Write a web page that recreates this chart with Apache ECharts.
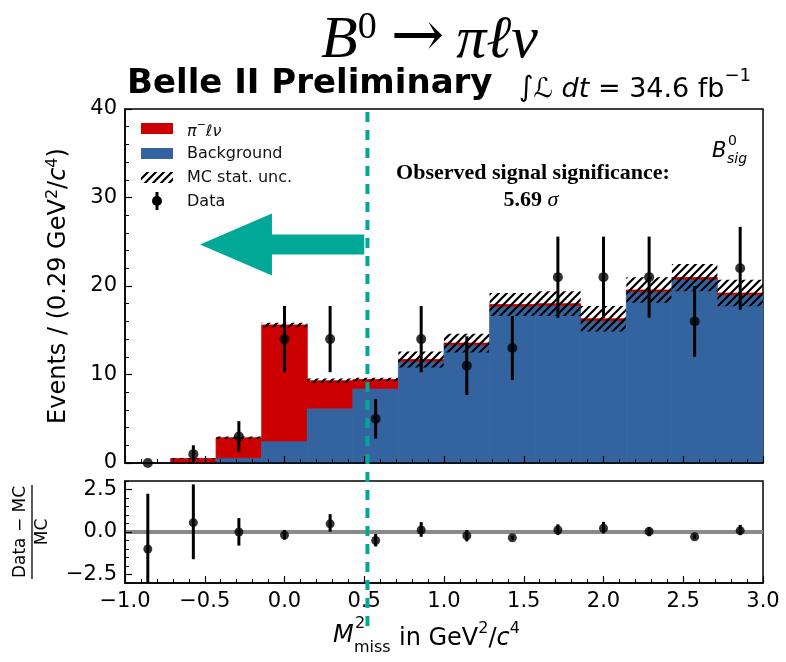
<!DOCTYPE html>
<html><head><meta charset="utf-8">
<script src="https://cdn.jsdelivr.net/npm/echarts@6/dist/echarts.min.js"></script>
<style>html,body{margin:0;padding:0;background:#fff}#c{width:786px;height:662px}</style>
</head><body><div id="c"></div>
<script>
// ---- data ----
const binEdges   = [-1.0, -0.714, -0.429, -0.143, 0.143, 0.429, 0.714, 1.0, 1.286, 1.571, 1.857, 2.143, 2.429, 2.714, 3.0];
const background = [0.0, 0.0, 0.6, 2.5, 6.2, 8.43, 11.5, 13.35, 17.7, 17.8, 16.1, 19.35, 20.75, 19.0];
const signal     = [0.0, 0.5, 2.25, 13.1, 3.1, 1.0, 0.2, 0.2, 0.2, 0.2, 0.2, 0.2, 0.2, 0.2];
const mcUnc      = [0.0, 0.06, 0.15, 0.25, 0.25, 0.2, 0.9, 1.05, 1.3, 1.4, 1.45, 1.45, 1.55, 1.5];
const dataCounts = [0, 1, 3, 14, 14, 5, 14, 11, 13, 21, 21, 21, 16, 22];
const dataErr    = [0, 1, 1.73, 3.74, 3.74, 2.24, 3.74, 3.32, 3.61, 4.58, 4.58, 4.58, 4.0, 4.69];
const ratioVal   = [-1.0, 0.55, 0.0, -0.18, 0.48, -0.5, 0.12, -0.22, -0.34, 0.12, 0.22, 0.03, -0.28, 0.08];
const ratioLo    = [-3.2, -1.6, -0.8, -0.45, 0.02, -0.85, -0.28, -0.55, -0.45, -0.18, -0.08, -0.25, -0.4, -0.18];
const ratioHi    = [2.25, 2.8, 0.82, 0.12, 1.05, -0.12, 0.58, 0.12, -0.22, 0.45, 0.6, 0.3, -0.15, 0.42];
const mainYTicks = [0, 10, 20, 30, 40];
const ratioYTicks = [-2.5, 0, 2.5];
const ratioYMinor = [-3, -2.5, -2, -1.5, -1, -0.5, 0, 0.5, 1, 1.5, 2, 2.5, 3];
const cutValue = 0.52;

const RED = '#cc0000', BLUE = '#33649f', TEAL = '#00a898';
const FONT = 'DejaVu Sans';

// hatch pattern
const pc = document.createElement('canvas');
pc.width = 8; pc.height = 8;
const g = pc.getContext('2d');
g.strokeStyle = '#000'; g.lineWidth = 2.2; g.lineCap = 'square';
g.beginPath();
g.moveTo(0, 8); g.lineTo(8, 0);
g.moveTo(-4, 4); g.lineTo(4, -4);
g.moveTo(4, 12); g.lineTo(12, 4);
g.stroke();
const hatch = { image: pc, repeat: 'repeat' };

const centers = dataCounts.map((_, i) => (binEdges[i] + binEdges[i + 1]) / 2);
const histData = background.map((b, i) => [binEdges[i], binEdges[i + 1], b, signal[i], mcUnc[i]]);
const dataPts = dataCounts.map((v, i) => [centers[i], v, dataErr[i]]);
const ratioPts = ratioVal.map((v, i) => [centers[i], v, ratioLo[i], ratioHi[i]]);

function fmt(v) { return (v < 0 ? '\u2212' : '') + Math.abs(v).toFixed(1); }

const tickLabel = { fontFamily: FONT, fontSize: 21, color: '#000' };
const lineBlack = { color: '#000', width: 1.5 };

const chart = echarts.init(document.getElementById('c'), null, { renderer: 'canvas' });
chart.setOption({
  animation: false,
  backgroundColor: '#fff',
  grid: [
    { left: 125, right: 23, top: 109, height: 354, show: true, borderColor: '#000', borderWidth: 1.5, backgroundColor: 'transparent' },
    { left: 125, right: 23, top: 481, height: 102, show: true, borderColor: '#000', borderWidth: 1.5, backgroundColor: 'transparent' }
  ],
  xAxis: [
    { type: 'value', gridIndex: 0, min: -1, max: 3, interval: 0.5, z: 10,
      axisLine: { show: true, onZero: false, lineStyle: lineBlack },
      axisTick: { show: true, inside: true, length: 7, lineStyle: { color: '#000', width: 1.2 } },
      minorTick: { show: true, splitNumber: 5, length: 4, lineStyle: { color: '#000', width: 1 } },
      axisLabel: { show: false }, splitLine: { show: false } },
    { type: 'value', gridIndex: 1, min: -1, max: 3, interval: 0.5, z: 10,
      axisLine: { show: true, onZero: false, lineStyle: lineBlack },
      axisTick: { show: true, inside: true, length: 7, lineStyle: { color: '#000', width: 1.2 } },
      minorTick: { show: true, splitNumber: 5, length: 4, lineStyle: { color: '#000', width: 1 } },
      axisLabel: Object.assign({ formatter: fmt, margin: 8 }, tickLabel), splitLine: { show: false } }
  ],
  yAxis: [
    { type: 'value', gridIndex: 0, min: 0, max: 40, interval: 10, z: 10,
      name: 'Events / (0.29 GeV{sup|2}/{i|c}{sup|4})', nameLocation: 'middle', nameRotate: 90, nameGap: 52,
      nameTextStyle: { fontFamily: FONT, fontSize: 24, color: '#000', lineHeight: 28,
        rich: { sup: { fontFamily: FONT, fontSize: 16, verticalAlign: 'top', lineHeight: 28 },
                i: { fontFamily: FONT, fontSize: 24, fontStyle: 'italic', lineHeight: 28 } } },
      axisLine: { show: true, onZero: false, lineStyle: lineBlack },
      axisTick: { show: true, inside: true, length: 7, lineStyle: { color: '#000', width: 1.2 } },
      minorTick: { show: true, splitNumber: 5, length: 4, lineStyle: { color: '#000', width: 1 } },
      axisLabel: Object.assign({ customValues: mainYTicks, margin: 8 }, tickLabel), splitLine: { show: false } },
    { type: 'value', gridIndex: 1, min: -3, max: 3, position: 'left', z: 10,
      axisLine: { show: true, onZero: false, lineStyle: lineBlack },
      axisTick: { show: true, inside: true, length: 4, customValues: ratioYMinor, lineStyle: { color: '#000', width: 1 } },
      axisLabel: Object.assign({ customValues: ratioYTicks, formatter: fmt, margin: 8 }, tickLabel), splitLine: { show: false } },
    { type: 'value', gridIndex: 1, min: -3, max: 3, position: 'left', z: 10,
      axisLine: { show: false, onZero: false },
      axisTick: { show: true, inside: true, length: 7, customValues: ratioYTicks, lineStyle: { color: '#000', width: 1.2 } },
      axisLabel: { show: false }, splitLine: { show: false } }
  ],
  series: [
    { type: 'custom', xAxisIndex: 0, yAxisIndex: 0, data: histData, encode: { x: [0, 1], y: 2 }, z: 2,
      renderItem: function (params, api) {
        const lo = api.value(0), hi = api.value(1), b = api.value(2), s = api.value(3), u = api.value(4);
        const rect = (y0, y1) => { const p0 = api.coord([lo, y1]); const p1 = api.coord([hi, y0]);
          return { x: p0[0], y: p0[1], width: p1[0] - p0[0], height: p1[1] - p0[1] }; };
        const children = [];
        if (b > 0) children.push({ type: 'rect', shape: rect(0, b), style: { fill: BLUE, stroke: BLUE, lineWidth: 0.8 } });
        if (s > 0) children.push({ type: 'rect', shape: rect(b, b + s), style: { fill: RED, stroke: RED, lineWidth: 0.8 } });
        if (u > 0) children.push({ type: 'rect', shape: rect(b + s - u, b + s + u), style: { fill: hatch } });
        return { type: 'group', children: children };
      } },
    { type: 'custom', xAxisIndex: 0, yAxisIndex: 0, data: dataPts, encode: { x: 0, y: 1 }, z: 5,
      renderItem: function (params, api) {
        const x = api.value(0), y = api.value(1), e = api.value(2);
        const a = api.coord([x, y - e]), b = api.coord([x, y + e]);
        return { type: 'line', shape: { x1: a[0], y1: a[1], x2: b[0], y2: b[1] }, style: { stroke: '#000', lineWidth: 3 } };
      } },
    { type: 'scatter', xAxisIndex: 0, yAxisIndex: 0, data: dataPts.map(p => [p[0], p[1]]), symbol: 'circle', symbolSize: 10,
      itemStyle: { color: '#000' }, z: 6 },
    { type: 'line', xAxisIndex: 1, yAxisIndex: 1, data: [[-1, 0], [3, 0]], symbol: 'none',
      lineStyle: { color: '#8a8a8a', width: 4 }, z: 2 },
    { type: 'custom', xAxisIndex: 1, yAxisIndex: 1, data: ratioPts, encode: { x: 0, y: 1 }, z: 5, clip: true,
      renderItem: function (params, api) {
        const x = api.value(0), lo = api.value(2), hi = api.value(3);
        const a = api.coord([x, lo]), b = api.coord([x, hi]);
        return { type: 'line', shape: { x1: a[0], y1: a[1], x2: b[0], y2: b[1] }, style: { stroke: '#000', lineWidth: 3 } };
      } },
    { type: 'scatter', xAxisIndex: 1, yAxisIndex: 1, data: ratioPts.map(p => [p[0], p[1]]), symbol: 'circle', symbolSize: 9,
      itemStyle: { color: '#000' }, z: 6 }
  ]
});

// ---- annotations positioned through the axes ----
const topMain = chart.convertToPixel({ gridIndex: 0 }, [cutValue, 40]);
const botRatio = chart.convertToPixel({ gridIndex: 1 }, [cutValue, -3]);
const tip = chart.convertToPixel({ gridIndex: 0 }, [-0.53, 24.7]);
const tail = chart.convertToPixel({ gridIndex: 0 }, [0.5, 24.7]);
const headLen = 72, headHalf = 31, shaftHalf = 10;
const arrowPts = [
  [tip[0], tip[1]], [tip[0] + headLen, tip[1] - headHalf], [tip[0] + headLen, tip[1] - shaftHalf],
  [tail[0], tail[1] - shaftHalf], [tail[0], tail[1] + shaftHalf], [tip[0] + headLen, tip[1] + shaftHalf],
  [tip[0] + headLen, tip[1] + headHalf]
];

const serif = 'Liberation Serif, DejaVu Serif';
const legX = 141, legTX = 187;
function legText(y, text, rich) {
  return { type: 'text', x: legTX, y: y, style: { text: text, fontFamily: FONT, fontSize: 16, fill: '#111', verticalAlign: 'middle', rich: rich } };
}

chart.setOption({
  graphic: [
    // cut line
    { type: 'line', z: 50, shape: { x1: topMain[0], y1: topMain[1] + 3, x2: botRatio[0], y2: botRatio[1] + 50 },
      style: { stroke: TEAL, lineWidth: 4, lineDash: [10, 8] } },
    { type: 'polygon', z: 50, shape: { points: arrowPts }, style: { fill: TEAL } },
    // title
    { type: 'text', x: 321, y: 71, style: { text: '{b|B}{s|0}{a|\u2192}{b|\u03c0\u2113\u03bd}', verticalAlign: 'bottom',
      rich: { b: { fontFamily: serif, fontStyle: 'italic', fontSize: 60, lineHeight: 62, verticalAlign: 'bottom' },
              s: { fontFamily: serif, fontSize: 38, lineHeight: 62, verticalAlign: 'top', padding: [0, 2, 24, 0] },
              a: { fontFamily: 'DejaVu Serif', fontSize: 64, lineHeight: 62, verticalAlign: 'bottom', padding: [0, 12, 0, 12] } } } },
    { type: 'text', x: 127, y: 84, style: { text: 'Belle II Preliminary', fontFamily: FONT, fontWeight: 'bold', fontSize: 34, fill: '#000', verticalAlign: 'middle' } },
    { type: 'text', x: 519, y: 103, style: { text: '{g|\u222b}{i|\u2112 dt}{n| = 34.6 fb}{s|\u22121}', verticalAlign: 'bottom',
      rich: { g: { fontFamily: FONT, fontSize: 28, lineHeight: 36, verticalAlign: 'bottom' },
              n: { fontFamily: FONT, fontSize: 27, lineHeight: 36, verticalAlign: 'bottom' },
              i: { fontFamily: FONT, fontStyle: 'italic', fontSize: 27, lineHeight: 36, verticalAlign: 'bottom' },
              s: { fontFamily: FONT, fontSize: 18, lineHeight: 36, verticalAlign: 'top' } } } },
    // legend
    { type: 'rect', shape: { x: legX, y: 123, width: 32, height: 11 }, style: { fill: RED } },
    { type: 'rect', shape: { x: legX, y: 148, width: 32, height: 11 }, style: { fill: BLUE } },
    { type: 'rect', shape: { x: legX, y: 172, width: 32, height: 11 }, style: { fill: hatch } },
    { type: 'line', shape: { x1: legX + 16, y1: 192, x2: legX + 16, y2: 210 }, style: { stroke: '#000', lineWidth: 3 } },
    { type: 'circle', shape: { cx: legX + 16, cy: 201, r: 5 }, style: { fill: '#000' } },
    legText(130, '{i|\u03c0}{s|\u2212}{i|\u2113\u03bd}', { i: { fontFamily: FONT, fontStyle: 'italic', fontSize: 16, lineHeight: 20, verticalAlign: 'bottom' }, s: { fontFamily: FONT, fontSize: 11, lineHeight: 20, verticalAlign: 'top' } }),
    legText(154, 'Background'),
    legText(178, 'MC stat. unc.'),
    legText(202, 'Data'),
    // significance
    { type: 'text', x: 533, y: 173, style: { text: 'Observed signal significance:', fontFamily: serif, fontWeight: 'bold', fontSize: 22, fill: '#000', align: 'center', verticalAlign: 'middle' } },
    { type: 'text', x: 531, y: 200, style: { text: '{b|5.69 }{i|\u03c3}', align: 'center', verticalAlign: 'middle',
      rich: { b: { fontFamily: serif, fontWeight: 'bold', fontSize: 22 }, i: { fontFamily: serif, fontStyle: 'italic', fontSize: 22 } } } },
    // B0 sig
    { type: 'text', x: 712, y: 152, style: { text: 'B', fontFamily: FONT, fontStyle: 'italic', fontSize: 21, fill: '#000', verticalAlign: 'middle' } },
    { type: 'text', x: 728, y: 141, style: { text: '0', fontFamily: FONT, fontSize: 14, fill: '#000', verticalAlign: 'middle' } },
    { type: 'text', x: 727, y: 159, style: { text: 'sig', fontFamily: FONT, fontStyle: 'italic', fontSize: 14, fill: '#000', verticalAlign: 'middle' } },
    // ratio y label (fraction)
    { type: 'group', x: 32, y: 532, rotation: Math.PI / 2, children: [
      { type: 'text', x: 0, y: -11, style: { text: 'Data \u2212 MC', fontFamily: FONT, fontSize: 17, fill: '#000', align: 'center', verticalAlign: 'middle' } },
      { type: 'line', shape: { x1: -47, y1: 0, x2: 47, y2: 0 }, style: { stroke: '#000', lineWidth: 1.3 } },
      { type: 'text', x: 0, y: 11, style: { text: 'MC', fontFamily: FONT, fontSize: 17, fill: '#000', align: 'center', verticalAlign: 'middle' } }
    ] },
    // x label
    { type: 'text', x: 333, y: 636, style: { text: 'M', fontFamily: FONT, fontStyle: 'italic', fontSize: 24, fill: '#000', verticalAlign: 'middle' } },
    { type: 'text', x: 355, y: 624, style: { text: '2', fontFamily: FONT, fontSize: 16, fill: '#000', verticalAlign: 'middle' } },
    { type: 'text', x: 354, y: 648, style: { text: 'miss', fontFamily: FONT, fontSize: 16, fill: '#000', verticalAlign: 'middle' } },
    { type: 'text', x: 399, y: 636, style: { text: '{n|in GeV}{s|2}{n|/}{i|c}{s|4}', verticalAlign: 'middle',
      rich: { n: { fontFamily: FONT, fontSize: 24, lineHeight: 30, verticalAlign: 'bottom' },
              i: { fontFamily: FONT, fontStyle: 'italic', fontSize: 24, lineHeight: 30, verticalAlign: 'bottom' },
              s: { fontFamily: FONT, fontSize: 16, lineHeight: 30, verticalAlign: 'top' } } } }
  ]
});
</script></body></html>
